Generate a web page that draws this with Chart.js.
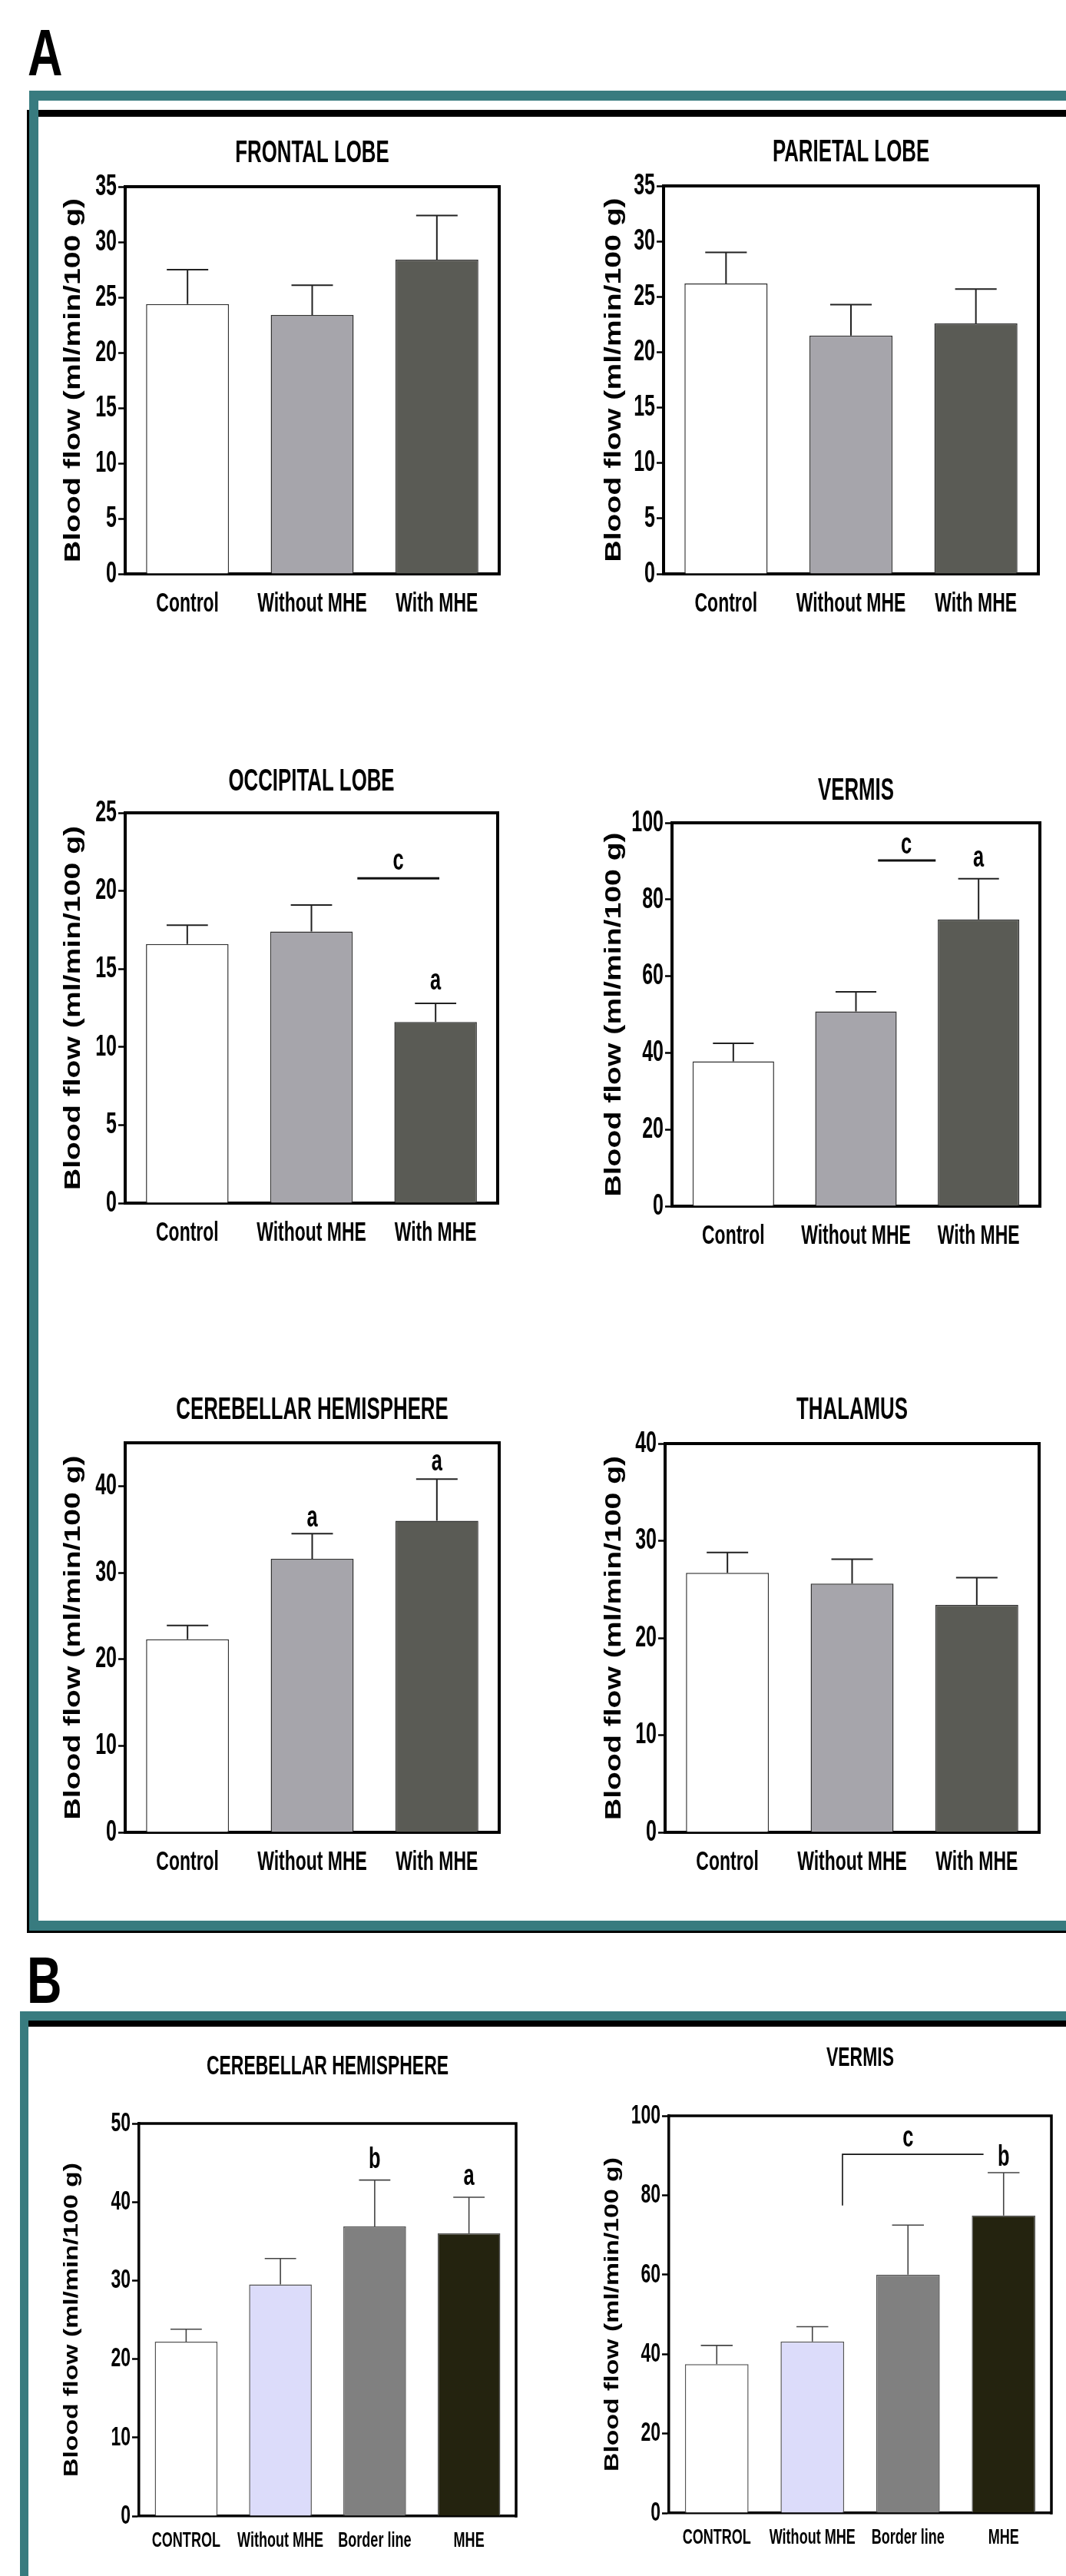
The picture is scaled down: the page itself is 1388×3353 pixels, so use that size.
<!DOCTYPE html>
<html lang="en">
<head>
<meta charset="UTF-8">
<title>Regional cerebral blood flow</title>
<script src="https://cdn.jsdelivr.net/npm/chart.js"></script>
<style>
  body { margin: 0; background: #fff; }
  #page { position: relative; width: 1388px; height: 3353px; overflow: hidden; background: #fff; }
  .teal { position: absolute; background: #387b7f; }
  .black { position: absolute; background: #000; }
  .panel-label {
    position: absolute; line-height: 1; color: #000;
    font: bold 63px "Liberation Sans Narrow", "Liberation Sans", Arial, sans-serif;
    transform-origin: 0 0; transform: scaleY(1.35);
  }
  canvas { position: absolute; }
</style>
</head>
<body>
<div id="page">
  <div class="panel-label" style="left:36px; top:20px">A</div>
  <div class="black" style="left:35px; top:143px; width:1353px; height:9px"></div>
  <div class="black" style="left:35px; top:143px; width:3px; height:2373px"></div>
  <div class="black" style="left:35px; top:2513px; width:1353px; height:3px"></div>
  <div class="teal" style="left:38px; top:118px; width:1350px; height:13px"></div>
  <div class="teal" style="left:38px; top:118px; width:12px; height:2395px"></div>
  <div class="teal" style="left:38px; top:2500px; width:1350px; height:13px"></div>

  <div class="panel-label" style="left:35px; top:2529px">B</div>
  <div class="teal" style="left:26px; top:2618px; width:1362px; height:12px"></div>
  <div class="teal" style="left:26px; top:2618px; width:11px; height:735px"></div>
  <div class="black" style="left:37px; top:2630px; width:1351px; height:8px"></div>
</div>

<script>
  // ---- data (mean and SEM, ml/min/100 g) ----
  const groupsA = ['Control', 'Without MHE', 'With MHE'];
  const groupsB = ['CONTROL', 'Without MHE', 'Border line', 'MHE'];

  const frontalMean = [24.4, 23.4, 28.4];
  const frontalSem = [3.1, 2.7, 4.0];
  const parietalMean = [26.2, 21.5, 22.6];
  const parietalSem = [2.8, 2.8, 3.1];
  const occipitalMean = [16.6, 17.4, 11.6];
  const occipitalSem = [1.2, 1.7, 1.2];
  const vermisMean = [37.8, 50.8, 74.8];
  const vermisSem = [4.7, 5.1, 10.6];
  const cerebellarMean = [22.3, 31.6, 36.0];
  const cerebellarSem = [1.6, 2.9, 4.8];
  const thalamusMean = [26.7, 25.6, 23.4];
  const thalamusSem = [2.1, 2.5, 2.8];
  const cerebellarBMean = [22.2, 29.5, 36.9, 36.0];
  const cerebellarBSem = [1.6, 3.3, 5.9, 4.6];
  const vermisBMean = [37.5, 43.2, 60.0, 74.9];
  const vermisBSem = [4.7, 3.7, 12.5, 10.8];

  // significance letters / lines, in (category index, value) units
  const occipitalLetters = [{ text: 'c', at: 1.70, value: 21.9 }, { text: 'a', at: 2, value: 14.2 }];
  const occipitalLines = [{ from: 1.37, to: 2.03, value: 20.8 }];
  const vermisLetters = [{ text: 'c', at: 1.41, value: 94.2 }, { text: 'a', at: 2, value: 90.7 }];
  const vermisLines = [{ from: 1.18, to: 1.65, value: 90.2 }];
  const cerebellarLetters = [{ text: 'a', at: 1, value: 36.3 }, { text: 'a', at: 2, value: 42.8 }];
  const cerebellarBLetters = [{ text: 'b', at: 2, value: 45.4 }, { text: 'a', at: 3, value: 43.2 }];
  const vermisBLetters = [{ text: 'c', at: 2.0, value: 94.3 }, { text: 'b', at: 3, value: 89.5 }];
  const vermisBLines = [{ from: 1.315, to: 2.79, value: 90.3, drop: 77.4 }];

  const yTitle = 'Blood flow (ml/min/100 g)';

  // ---- text look: the figure's lettering is tall and condensed ----
  const NARROW = '"Liberation Sans Narrow", "Liberation Sans", Arial, sans-serif';
  const WIDE = '"Liberation Sans", Arial, sans-serif';
  const STRETCH_NARROW = 1.28;
  const STRETCH_WIDE = 1.35;

  const probe = document.createElement('canvas').getContext('2d');
  probe.font = 'bold 100px "Liberation Sans Narrow"';
  const narrowW = probe.measureText('MHE Control').width;
  probe.font = 'bold 100px "Liberation Sans"';
  const wideW = probe.measureText('MHE Control').width;
  const squeeze = narrowW < wideW * 0.92 ? 1 : 0.82;

  const nativeFillText = CanvasRenderingContext2D.prototype.fillText;
  CanvasRenderingContext2D.prototype.fillText = function (text, x, y, maxWidth) {
    const m = this.getTransform();
    const p = m.transformPoint(new DOMPoint(x, y));
    const narrow = this.font.includes('Narrow');
    const sx = narrow ? squeeze : 1;
    const sy = narrow ? STRETCH_NARROW : STRETCH_WIDE;
    this.setTransform(new DOMMatrix().translate(p.x, p.y).scale(sx, sy).translate(-p.x, -p.y).multiply(m));
    if (maxWidth === undefined) nativeFillText.call(this, text, x, y);
    else nativeFillText.call(this, text, x, y, maxWidth);
    this.setTransform(m);
  };

  const lookA = {
    colors: ['#ffffff', '#a6a5ab', '#5a5b55'], outline: '#333',
    titleSize: 31.5, tickSize: 30.5, xSize: 28, xGap: 39, yTitleSize: 29, letterSize: 31,
    axisWidth: 4, errColor: '#222', errWidth: 2, markWidth: 3
  };
  const lookB = {
    colors: ['#ffffff', '#dcdcfa', '#808080', '#24230f'], outline: '#555',
    titleSize: 28, tickSize: 28, xSize: 22, xGap: 32.5, yTitleSize: 25, letterSize: 31,
    axisWidth: 3.5, errColor: '#444', errWidth: 1.6, markWidth: 1.6
  };

  // ---- plugins ----
  const plotBox = {
    id: 'plotBox',
    afterDraw(chart, args, opts) {
      const { ctx, chartArea: a } = chart;
      ctx.save();
      ctx.strokeStyle = '#000';
      ctx.lineWidth = opts.width;
      ctx.lineCap = 'square';
      ctx.beginPath();
      ctx.moveTo(a.left, a.top);
      ctx.lineTo(a.right, a.top);
      ctx.lineTo(a.right, a.bottom);
      ctx.stroke();
      ctx.restore();
    }
  };

  const errorBars = {
    id: 'errorBars',
    afterDatasetsDraw(chart, args, opts) {
      const { ctx } = chart;
      const y = chart.scales.y;
      const means = chart.data.datasets[0].data;
      ctx.save();
      ctx.strokeStyle = opts.color;
      ctx.lineWidth = opts.width;
      chart.getDatasetMeta(0).data.forEach((bar, i) => {
        const top = y.getPixelForValue(means[i] + opts.sem[i]);
        const half = bar.width / 4;
        ctx.beginPath();
        ctx.moveTo(bar.x, bar.y);
        ctx.lineTo(bar.x, top);
        ctx.moveTo(bar.x - half, top);
        ctx.lineTo(bar.x + half, top);
        ctx.stroke();
      });
      ctx.restore();
    }
  };

  const sigMarks = {
    id: 'sigMarks',
    afterDatasetsDraw(chart, args, opts) {
      const { ctx, scales: { x, y } } = chart;
      ctx.save();
      ctx.strokeStyle = '#111';
      ctx.lineWidth = opts.width;
      (opts.lines || []).forEach(l => {
        const x1 = x.getPixelForValue(l.from), x2 = x.getPixelForValue(l.to), yy = y.getPixelForValue(l.value);
        ctx.beginPath();
        if (l.drop !== undefined) {
          ctx.moveTo(x1, y.getPixelForValue(l.drop));
          ctx.lineTo(x1, yy);
        } else {
          ctx.moveTo(x1, yy);
        }
        ctx.lineTo(x2, yy);
        ctx.stroke();
      });
      ctx.fillStyle = '#000';
      ctx.font = 'bold ' + opts.size + 'px ' + NARROW;
      ctx.textAlign = 'center';
      ctx.textBaseline = 'middle';
      (opts.letters || []).forEach(t => ctx.fillText(t.text, x.getPixelForValue(t.at), y.getPixelForValue(t.value)));
      ctx.restore();
    }
  };

  // ---- panels: chart area [left, top, right, bottom] on the page ----
  const panels = [
    { title: 'FRONTAL LOBE', labels: groupsA, mean: frontalMean, sem: frontalSem, max: 35, step: 5,
      area: [163, 243, 650, 747], titleY: 200, yTitleX: 96, look: lookA },
    { title: 'PARIETAL LOBE', labels: groupsA, mean: parietalMean, sem: parietalSem, max: 35, step: 5,
      area: [864, 242, 1352, 747], titleY: 199, yTitleX: 800, look: lookA },
    { title: 'OCCIPITAL LOBE', labels: groupsA, mean: occipitalMean, sem: occipitalSem, max: 25, step: 5,
      area: [163, 1058, 648, 1566], titleY: 1018, yTitleX: 96, look: lookA,
      letters: occipitalLetters, lines: occipitalLines },
    { title: 'VERMIS', labels: groupsA, mean: vermisMean, sem: vermisSem, max: 100, step: 20,
      area: [875, 1071, 1354, 1570], titleY: 1030, yTitleX: 800, look: lookA,
      letters: vermisLetters, lines: vermisLines },
    { title: 'CEREBELLAR HEMISPHERE', labels: groupsA, mean: cerebellarMean, sem: cerebellarSem, max: 45, step: 10,
      area: [163, 1878, 650, 2385], titleY: 1836, yTitleX: 96, look: lookA, letters: cerebellarLetters },
    { title: 'THALAMUS', labels: groupsA, mean: thalamusMean, sem: thalamusSem, max: 40, step: 10,
      area: [866, 1879, 1353, 2385], titleY: 1836, yTitleX: 800, look: lookA },
    { title: 'CEREBELLAR HEMISPHERE', labels: groupsB, mean: cerebellarBMean, sem: cerebellarBSem, max: 50, step: 10,
      area: [181, 2764, 672, 3275], titleY: 2690, yTitleX: 94, look: lookB,
      letters: cerebellarBLetters },
    { title: 'VERMIS', labels: groupsB, mean: vermisBMean, sem: vermisBSem, max: 100, step: 20,
      area: [871, 2754, 1369, 3271], titleY: 2679, yTitleX: 798, look: lookB,
      letters: vermisBLetters, lines: vermisBLines }
  ];

  const page = document.getElementById('page');

  function makeChart(p) {
    const s = p.look;
    const [L, T, R, B] = p.area;
    const tLH = s.titleSize * 1.2;
    const yLH = s.yTitleSize * 1.2;
    const left = Math.round(p.yTitleX - yLH / 2);
    const top = Math.round(p.titleY - tLH / 2);
    const padRight = 14, xHeight = 70;
    const width = R + padRight - left;
    const height = B + xHeight - top;

    const canvas = document.createElement('canvas');
    canvas.width = width;
    canvas.height = height;
    canvas.style.left = left + 'px';
    canvas.style.top = top + 'px';
    page.appendChild(canvas);

    new Chart(canvas, {
      type: 'bar',
      data: {
        labels: p.labels,
        datasets: [{
          data: p.mean,
          backgroundColor: s.colors,
          borderColor: s.outline,
          borderWidth: 1.5,
          barPercentage: 0.665,
          categoryPercentage: 1
        }]
      },
      options: {
        responsive: false,
        animation: false,
        devicePixelRatio: 1,
        layout: { padding: { right: padRight } },
        plugins: {
          legend: { display: false },
          tooltip: { enabled: false },
          title: {
            display: true,
            text: p.title,
            fullSize: false,
            color: '#000',
            font: { family: NARROW, size: s.titleSize, weight: 'bold' },
            padding: { top: 0, bottom: T - top - tLH }
          },
          plotBox: { width: s.axisWidth },
          errorBars: { sem: p.sem, color: s.errColor, width: s.errWidth },
          sigMarks: { letters: p.letters || [], lines: p.lines || [], width: s.markWidth, size: s.letterSize }
        },
        scales: {
          x: {
            grid: { display: false, drawTicks: false },
            border: { color: '#000', width: s.axisWidth },
            ticks: {
              color: '#000', autoSkip: false, maxRotation: 0,
              font: { family: NARROW, size: s.xSize, weight: 'bold' },
              padding: s.xGap - s.xSize * 0.6
            },
            afterFit: sc => { sc.height = xHeight; }
          },
          y: {
            min: 0,
            max: p.max,
            ticks: {
              stepSize: p.step, includeBounds: false, color: '#000', padding: 2,
              font: { family: NARROW, size: s.tickSize, weight: 'bold' }
            },
            grid: { drawOnChartArea: false, tickLength: 9, tickWidth: 2.5, tickColor: '#000' },
            border: { color: '#000', width: s.axisWidth },
            title: {
              display: true, text: yTitle, color: '#000', padding: 0,
              font: { family: WIDE, size: s.yTitleSize, weight: 'bold' }
            },
            afterFit: sc => { sc.width = L - left; }
          }
        }
      },
      plugins: [plotBox, errorBars, sigMarks]
    });
  }

  panels.forEach(makeChart);
</script>
</body>
</html>
